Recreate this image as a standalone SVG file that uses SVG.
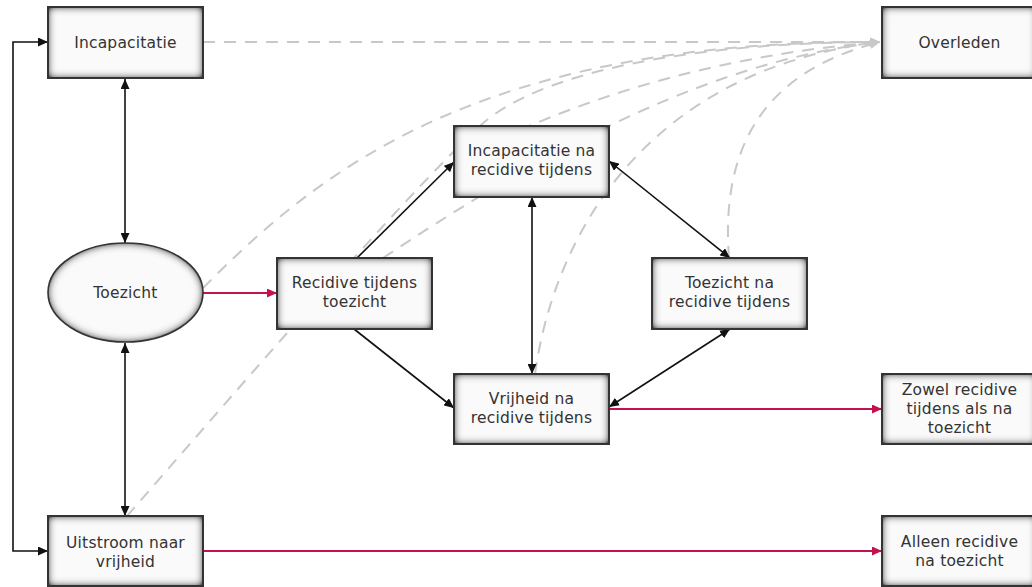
<svg xmlns="http://www.w3.org/2000/svg" width="1032" height="587" viewBox="0 0 1032 587">
<style>
  .bg { fill: #fafafa; filter: url(#inset); }
  .frame { fill: none; stroke: #333; stroke-width: 2; }
  .lbl { font-family: "DejaVu Sans", Verdana, sans-serif; font-size: 15.5px; letter-spacing: 0.2px; fill: #333; text-anchor: middle; }
  .blk { fill: none; stroke: #111; stroke-width: 1.6; marker-end: url(#ab); }
  .both { marker-start: url(#ab); }
  .red { fill: none; stroke: #c4124a; stroke-width: 2; marker-end: url(#ar); }
  .dash { fill: none; stroke: #c8c8c8; stroke-width: 2; stroke-dasharray: 12 9; marker-end: url(#ag); }
</style>
<defs>
  <filter id="inset" x="-20%" y="-30%" width="140%" height="160%">
    <feFlood flood-color="#3c3c3c" flood-opacity="1" result="f"/>
    <feComposite in="f" in2="SourceAlpha" operator="out" result="o"/>
    <feGaussianBlur in="o" stdDeviation="4.5" result="b"/>
    <feComponentTransfer in="b" result="bb">
      <feFuncA type="linear" slope="1.6" intercept="0"/>
    </feComponentTransfer>
    <feComposite in="bb" in2="SourceAlpha" operator="in" result="s"/>
    <feMerge><feMergeNode in="SourceGraphic"/><feMergeNode in="s"/></feMerge>
  </filter>
  <marker id="ab" markerUnits="userSpaceOnUse" markerWidth="10" markerHeight="9" refX="10" refY="4.5" orient="auto-start-reverse">
    <path d="M0,0 L10,4.5 L0,9 z" fill="#111"/>
  </marker>
  <marker id="ar" markerUnits="userSpaceOnUse" markerWidth="10" markerHeight="9" refX="10" refY="4.5" orient="auto">
    <path d="M0,0 L10,4.5 L0,9 z" fill="#c4124a"/>
  </marker>
  <marker id="ag" markerUnits="userSpaceOnUse" markerWidth="10" markerHeight="9" refX="10" refY="4.5" orient="auto">
    <path d="M0,0 L10,4.5 L0,9 z" fill="#c8c8c8"/>
  </marker>
</defs>

<g id="connectors">
  <g id="to-overleden">
    <path class="dash" d="M203,42 L880,42"/>
    <path class="dash" d="M203,288 C320,170 480,40 880,42"/>
    <path class="dash" d="M127,516 C220,410 400,200 480,126 C540,70 700,42 880,42"/>
    <path class="dash" d="M383,258 C560,140 720,60 880,42"/>
    <path class="dash" d="M520,130 C600,95 720,55 880,42"/>
    <path class="dash" d="M729,258 C720,140 770,70 880,42"/>
    <path class="dash" d="M535,374 C555,230 650,70 880,42"/>
  </g>
  <path class="blk both" d="M48,551 L13,551 L13,42 L48,42"/>
  <path class="blk both" d="M125,79 L125,243"/>
  <path class="blk both" d="M125,343 L125,516"/>
  <path class="blk" d="M357,258 L454,162"/>
  <path class="blk" d="M354,329 L454,408"/>
  <path class="blk both" d="M532,197 L532,374"/>
  <path class="blk both" d="M609,161 L730,258"/>
  <path class="blk both" d="M609,407 L730,329"/>
  <path class="red" d="M203,293 L277,293"/>
  <path class="red" d="M609,409 L882,409"/>
  <path class="red" d="M203,551 L882,551"/>
</g>

<g id="incapacitatie">
  <rect class="bg" x="48" y="7" width="155" height="71"/>
  <rect class="frame" x="48" y="7" width="155" height="71"/>
  <text class="lbl" x="125.5" y="48">Incapacitatie</text>
</g>
<g id="overleden">
  <rect class="bg" x="882" y="7" width="155" height="71"/>
  <rect class="frame" x="882" y="7" width="155" height="71"/>
  <text class="lbl" x="959.5" y="48">Overleden</text>
</g>
<g id="toezicht">
  <ellipse class="bg" cx="125.5" cy="292.5" rx="77.5" ry="49.5"/>
  <ellipse class="frame" cx="125.5" cy="292.5" rx="77.5" ry="49.5" style="stroke-width:1.6"/>
  <text class="lbl" x="125.5" y="298">Toezicht</text>
</g>
<g id="recidive-tijdens-toezicht">
  <rect class="bg" x="277" y="258" width="155" height="71"/>
  <rect class="frame" x="277" y="258" width="155" height="71"/>
  <text class="lbl" x="354.5" y="288">Recidive tijdens</text>
  <text class="lbl" x="354.5" y="307">toezicht</text>
</g>
<g id="incapacitatie-na">
  <rect class="bg" x="454" y="126" width="155" height="71"/>
  <rect class="frame" x="454" y="126" width="155" height="71"/>
  <text class="lbl" x="531.5" y="156">Incapacitatie na</text>
  <text class="lbl" x="531.5" y="175">recidive tijdens</text>
</g>
<g id="toezicht-na">
  <rect class="bg" x="652" y="258" width="155" height="71"/>
  <rect class="frame" x="652" y="258" width="155" height="71"/>
  <text class="lbl" x="729.5" y="288">Toezicht na</text>
  <text class="lbl" x="729.5" y="307">recidive tijdens</text>
</g>
<g id="vrijheid-na">
  <rect class="bg" x="454" y="374" width="155" height="70"/>
  <rect class="frame" x="454" y="374" width="155" height="70"/>
  <text class="lbl" x="531.5" y="404">Vrijheid na</text>
  <text class="lbl" x="531.5" y="423">recidive tijdens</text>
</g>
<g id="zowel">
  <rect class="bg" x="882" y="374" width="155" height="70"/>
  <rect class="frame" x="882" y="374" width="155" height="70"/>
  <text class="lbl" x="959.5" y="395">Zowel recidive</text>
  <text class="lbl" x="959.5" y="414">tijdens als na</text>
  <text class="lbl" x="959.5" y="433">toezicht</text>
</g>
<g id="uitstroom">
  <rect class="bg" x="48" y="516" width="155" height="70"/>
  <rect class="frame" x="48" y="516" width="155" height="70"/>
  <text class="lbl" x="125.5" y="548">Uitstroom naar</text>
  <text class="lbl" x="125.5" y="567">vrijheid</text>
</g>
<g id="alleen">
  <rect class="bg" x="882" y="516" width="155" height="70"/>
  <rect class="frame" x="882" y="516" width="155" height="70"/>
  <text class="lbl" x="959.5" y="547">Alleen recidive</text>
  <text class="lbl" x="959.5" y="566">na toezicht</text>
</g>
</svg>
